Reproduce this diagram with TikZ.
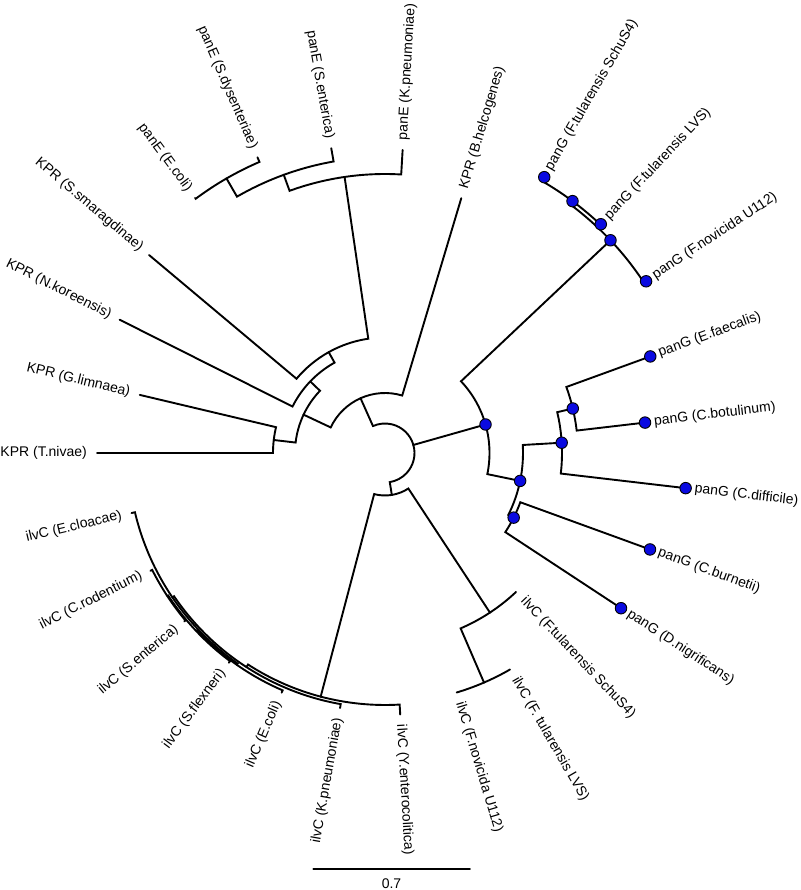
\documentclass[tikz,border=0pt]{standalone}
\usepackage{fontspec}
\setmainfont{Liberation Sans}
\usepackage{tikz}
\definecolor{dotblue}{RGB}{10,10,225}
\tikzset{branch/.style={line width=1.9pt, line cap=round},
  lbl/.style={font=\fontsize{14}{16}\selectfont, inner sep=2pt},
  bluedot/.style={circle, draw=black, fill=dotblue, line width=0.9pt, minimum size=11.5pt, inner sep=0pt}}
\newcommand{\tnode}[3]{\coordinate (#1) at (#2:#3);}
\newcommand{\link}[5]{\draw[branch] (#1) arc[start angle=#2, end angle=#4, radius=#3] -- (#5);}
\newcommand{\labR}[4]{\node[lbl, anchor=west, rotate=#2] (t#1) at (#2:#3) {#4};}
\newcommand{\labL}[4]{\node[lbl, anchor=east, rotate=#2+180] (t#1) at (#2:#3) {#4};}
\newcommand{\dotat}[1]{\node[bluedot] (d#1) at (#1) {};}

\begin{document}
\begin{tikzpicture}[x=1pt, y=1pt]
        \useasboundingbox (-385,-437) rectangle (415,453);

        % inner nodes
        \tnode{root}{16.66}{29.5}
        \tnode{kA}{114.06}{60}
        \tnode{kB}{154.79}{90}
        \tnode{kD}{136.25}{103.5}
        \tnode{kE}{173.33}{112}
        \tnode{kF}{119.17}{115.5}
        \tnode{eG}{98.33}{279}
        \tnode{eH}{110}{296}
        \tnode{eI}{120}{317}
        \tnode{gP}{15.83}{104.5}
        \tnode{gQ}{43.33}{310}
        \tnode{gR}{53.33}{314}
        \tnode{gS}{-11.67}{138}
        \tnode{gT}{-26.67}{144}
        \tnode{gU}{3.33}{177}
        \tnode{gV}{13.33}{193}
        \tnode{iW}{-80.73}{42.5}
        \tnode{iY}{-56.67}{191}
        \tnode{iZ}{-66.67}{250}
        \tnode{iX}{-104.79}{252}
        \tnode{iXb}{-122.92}{255}
        \tnode{iXc}{-145.83}{257}
        \tnode{iXd}{-125}{258.5}
        \tnode{iXe}{-136.67}{259.5}
        \tnode{iXf}{-146.67}{260.5}

        % leaves
        \tnode{kBhel}{73.33}{266}
        \tnode{kSsma}{140}{308}
        \tnode{kNkor}{153.33}{297}
        \tnode{kGlim}{166.67}{252}
        \tnode{kTniv}{180}{288}
        \tnode{eKpn}{86.67}{303.5}
        \tnode{eSent}{100}{309.5}
        \tnode{eSdys}{113.33}{322}
        \tnode{eEcol}{126.67}{318}
        \tnode{gFnov}{33.33}{312.5}
        \tnode{gFlvs}{46.67}{314.5}
        \tnode{gFsch}{60}{318.5}
        \tnode{gEfae}{20}{282.3}
        \tnode{gCbot}{6.67}{261.8}
        \tnode{gCdif}{-6.67}{302.7}
        \tnode{gCbur}{-20}{282}
        \tnode{gDnig}{-33.33}{282.5}
        \tnode{iFsch}{-46.67}{191}
        \tnode{iFlvs}{-60}{250}
        \tnode{iFnov}{-73.33}{250}
        \tnode{iYent}{-86.67}{262}
        \tnode{iKpn}{-100}{259}
        \tnode{iEcol}{-113.33}{261}
        \tnode{iSfle}{-126.67}{261.5}
        \tnode{iSent}{-140}{262}
        \tnode{iCrod}{-153.33}{262.5}
        \tnode{iEclo}{-166.67}{260.5}

        % root
        \link{root}{16.66}{29.5}{114.06}{kA}
        \link{root}{16.66}{29.5}{15.83}{gP}
        \link{root}{16.66}{29.5}{-80.73}{iW}

        % KPR and panE
        \link{kA}{114.06}{60}{154.79}{kB}
        \link{kA}{114.06}{60}{73.33}{kBhel}
        \link{kB}{154.79}{90}{136.25}{kD}
        \link{kB}{154.79}{90}{173.33}{kE}
        \link{kE}{173.33}{112}{166.67}{kGlim}
        \link{kE}{173.33}{112}{180}{kTniv}
        \link{kD}{136.25}{103.5}{119.17}{kF}
        \link{kD}{136.25}{103.5}{153.33}{kNkor}
        \link{kF}{119.17}{115.5}{98.33}{eG}
        \link{kF}{119.17}{115.5}{140}{kSsma}
        \link{eG}{98.33}{279}{110}{eH}
        \link{eG}{98.33}{279}{86.67}{eKpn}
        \link{eH}{110}{296}{120}{eI}
        \link{eH}{110}{296}{100}{eSent}
        \link{eI}{120}{317}{113.33}{eSdys}
        \link{eI}{120}{317}{126.67}{eEcol}

        % panG
        \link{gP}{15.83}{104.5}{43.33}{gQ}
        \link{gP}{15.83}{104.5}{-11.67}{gS}
        \link{gQ}{43.33}{310}{33.33}{gFnov}
        \link{gQ}{43.33}{310}{53.33}{gR}
        \link{gR}{53.33}{314}{46.67}{gFlvs}
        \link{gR}{53.33}{314}{60}{gFsch}
        \link{gS}{-11.67}{138}{3.33}{gU}
        \link{gS}{-11.67}{138}{-26.67}{gT}
        \link{gU}{3.33}{177}{13.33}{gV}
        \link{gU}{3.33}{177}{-6.67}{gCdif}
        \link{gV}{13.33}{193}{20}{gEfae}
        \link{gV}{13.33}{193}{6.67}{gCbot}
        \link{gT}{-26.67}{144}{-20}{gCbur}
        \link{gT}{-26.67}{144}{-33.33}{gDnig}

        % ilvC
        \link{iW}{-80.73}{42.5}{-104.79}{iX}
        \link{iW}{-80.73}{42.5}{-56.67}{iY}
        \link{iY}{-56.67}{191}{-46.67}{iFsch}
        \link{iY}{-56.67}{191}{-66.67}{iZ}
        \link{iZ}{-66.67}{250}{-60}{iFlvs}
        \link{iZ}{-66.67}{250}{-73.33}{iFnov}
        \link{iX}{-104.79}{252}{-86.67}{iYent}
        \link{iX}{-104.79}{252}{-122.92}{iXb}
        \link{iXb}{-122.92}{255}{-100}{iKpn}
        \link{iXb}{-122.92}{255}{-145.83}{iXc}
        \link{iXc}{-145.83}{257}{-125}{iXd}
        \link{iXc}{-145.83}{257}{-166.67}{iEclo}
        \link{iXd}{-125}{258.5}{-113.33}{iEcol}
        \link{iXd}{-125}{258.5}{-136.67}{iXe}
        \link{iXe}{-136.67}{259.5}{-126.67}{iSfle}
        \link{iXe}{-136.67}{259.5}{-146.67}{iXf}
        \link{iXf}{-146.67}{260.5}{-140}{iSent}
        \link{iXf}{-146.67}{260.5}{-153.33}{iCrod}

        % blue dots
        \dotat{gP} \dotat{gQ} \dotat{gR} \dotat{gS} \dotat{gT} \dotat{gU} \dotat{gV}
        \dotat{gFnov} \dotat{gFlvs} \dotat{gFsch} \dotat{gEfae}
        \dotat{gCbot} \dotat{gCdif} \dotat{gCbur} \dotat{gDnig}

        % labels
        \labR{gFsch}{60}{325.5}{panG (F.tularensis SchuS4)}
        \labR{gFlvs}{46.67}{321.5}{panG (F.tularensis LVS)}
        \labR{gFnov}{33.33}{319.5}{panG (F.novicida U112)}
        \labR{gEfae}{20}{289.3}{panG (E.faecalis)}
        \labR{gCbot}{6.67}{268.8}{panG (C.botulinum)}
        \labR{gCdif}{-6.67}{309.7}{panG (C.difficile)}
        \labR{gCbur}{-20}{289}{panG (C.burnetii)}
        \labR{gDnig}{-33.33}{289.5}{panG (D.nigrificans)}
        \labR{iFsch}{-46.67}{199}{ilvC (F.tularensis SchuS4)}
        \labR{iFlvs}{-60}{258}{ilvC (F. tularensis LVS)}
        \labR{iFnov}{-73.33}{258}{ilvC (F.novicida U112)}
        \labR{iYent}{-86.67}{270}{ilvC (Y.enterocolitica)}
        \labL{iKpn}{-100}{267}{ilvC (K.pneumoniae)}
        \labL{iEcol}{-113.33}{269}{ilvC (E.coli)}
        \labL{iSfle}{-126.67}{269.5}{ilvC (S.flexneri)}
        \labL{iSent}{-140}{270}{ilvC (S.enterica)}
        \labL{iCrod}{-153.33}{270.5}{ilvC (C.rodentium)}
        \labL{iEclo}{-166.67}{268.5}{ilvC (E.cloacae)}
        \labL{kTniv}{180}{296}{KPR (T.nivae)}
        \labL{kGlim}{166.67}{260}{KPR (G.limnaea)}
        \labL{kNkor}{153.33}{305}{KPR (N.koreensis)}
        \labL{kSsma}{140}{316}{KPR (S.smaragdinae)}
        \labL{eEcol}{126.67}{326}{panE (E.coli)}
        \labL{eSdys}{113.33}{330}{panE (S.dysenteriae)}
        \labL{eSent}{100}{317.5}{panE (S.enterica)}
        \labR{eKpn}{86.67}{311.5}{panE (K.pneumoniae)}
        \labR{kBhel}{73.33}{274}{KPR (B.helcogenes)}

        % scale bar
        \coordinate (sbL) at (-71.7,-416);
        \coordinate (sbR) at (85,-416);
        \draw[branch] (sbL) -- (sbR);
        \node[lbl] (sbT) at (6.5,-431) {0.7};

\end{tikzpicture}
\end{document}
